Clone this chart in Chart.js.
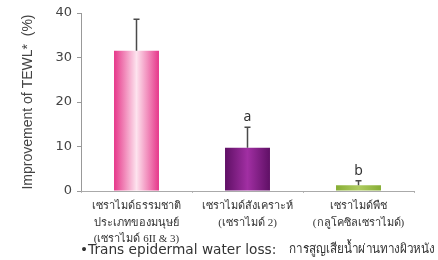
<!DOCTYPE html>
<html>
<head>
<meta charset="utf-8">
<script src="https://cdn.jsdelivr.net/npm/chart.js@4.4.1/dist/chart.umd.min.js"></script>
<style>
  html, body { margin: 0; padding: 0; background: #fff; }
  #wrap { width: 438px; height: 260px; }
</style>
</head>
<body>
<div id="wrap"><canvas id="tewl"></canvas></div>
<script>
// --- data ---
const categories = [
  ['เซราไมด์ธรรมชาติ', 'ประเภทของมนุษย์', '(เซราไมด์ 6II & 3)'],
  ['เซราไมด์สังเคราะห์', '(เซราไมด์ 2)'],
  ['เซราไมด์พืช', '(กลูโคซิลเซราไมด์)']
];
const improvement = [31.5, 9.7, 1.3];
const errorUp = [7.1, 4.6, 1.0];
const sigLetters = ['', 'a', 'b'];
const yTicks = [0, 10, 20, 30, 40];
const footEn = '•Trans epidermal water loss:';
const footTh = 'การสูญเสียน้ำผ่านทางผิวหนัง';

// edge / centre colours for each bar's sheen
const barEdge = ['#e6378a', '#5f1065', '#86ad34'];
const barMid = ['#fde3ee', '#a12fa3', '#b0cc62'];

const BAR_PCT = 0.405;

const barFill = (ctx) => {
  const chart = ctx.chart;
  const xs = chart.scales.x;
  if (!xs || !chart.chartArea) return barEdge[ctx.dataIndex];
  const cx = xs.getPixelForValue(ctx.dataIndex);
  const half = (xs.width / categories.length) * BAR_PCT / 2;
  const g = chart.ctx.createLinearGradient(cx - half, 0, cx + half, 0);
  g.addColorStop(0, barEdge[ctx.dataIndex]);
  g.addColorStop(0.5, barMid[ctx.dataIndex]);
  g.addColorStop(1, barEdge[ctx.dataIndex]);
  return g;
};

// --- error bars, significance letters, footnote ---
const extras = {
  id: 'extras',
  afterDatasetsDraw(chart) {
    const { ctx } = chart;
    const ys = chart.scales.y;
    const meta = chart.getDatasetMeta(0);
    ctx.save();
    meta.data.forEach((bar, i) => {
      const top = ys.getPixelForValue(improvement[i] + errorUp[i]);
      ctx.strokeStyle = '#4a4a4a';
      ctx.lineWidth = 1.5;
      ctx.beginPath();
      ctx.moveTo(bar.x, bar.y);
      ctx.lineTo(bar.x, top);
      ctx.moveTo(bar.x - 3, top);
      ctx.lineTo(bar.x + 3, top);
      ctx.stroke();
      if (sigLetters[i]) {
        ctx.fillStyle = '#333';
        ctx.font = '14px "Noto Sans", sans-serif';
        ctx.textAlign = 'center';
        ctx.textBaseline = 'bottom';
        ctx.fillText(sigLetters[i], bar.x, top - 3);
      }
    });
    ctx.restore();
  },
  afterDraw(chart) {
    const { ctx, chartArea } = chart;
    const x0 = chartArea.left - 1;
    const y0 = chart.height - 10;
    ctx.save();
    ctx.fillStyle = '#333';
    ctx.textBaseline = 'middle';
    ctx.textAlign = 'left';
    ctx.font = '13.7px "DejaVu Sans", sans-serif';
    ctx.fillText(footEn, x0, y0);
    // Thai part is narrower in the source, squeeze it a bit
    ctx.translate(x0 + 209, y0);
    ctx.scale(0.9, 1);
    ctx.font = '13px serif';
    ctx.fillText(footTh, 0, 0);
    ctx.restore();
  }
};

new Chart(document.getElementById('tewl'), {
  type: 'bar',
  data: {
    labels: categories,
    datasets: [{
      data: improvement,
      backgroundColor: barFill,
      borderWidth: 0,
      barPercentage: BAR_PCT,
      categoryPercentage: 1
    }]
  },
  options: {
    responsive: true,
    maintainAspectRatio: false,
    animation: false,
    layout: { padding: { top: 13, right: 24, left: 0, bottom: 0 } },
    plugins: {
      legend: { display: false },
      tooltip: { enabled: false }
    },
    scales: {
      y: {
        min: 0,
        max: 40,
        afterBuildTicks: (s) => { s.ticks = yTicks.map(v => ({ value: v })); },
        afterFit: (s) => { s.width = 81; },
        border: { color: '#999' },
        grid: { drawOnChartArea: false, tickLength: 4, color: '#999' },
        ticks: {
          color: '#444',
          padding: 5,
          font: { family: '"DejaVu Sans", sans-serif', size: 13 }
        },
        title: {
          display: true,
          text: 'Improvement of TEWL*  (%)',
          color: '#444',
          padding: { top: 20, bottom: 0 },
          font: { family: 'Arial, "Liberation Sans", sans-serif', size: 14 }
        }
      },
      x: {
        afterFit: (s) => { s.height = 69; },
        border: { color: '#aaa' },
        grid: { drawOnChartArea: false, offset: true, tickLength: 2, color: '#bbb' },
        ticks: {
          color: '#333',
          padding: 5,
          maxRotation: 0,
          autoSkip: false,
          font: { family: 'serif', size: 11, lineHeight: 1.5 }
        }
      }
    }
  },
  plugins: [extras]
});
</script>
</body>
</html>
